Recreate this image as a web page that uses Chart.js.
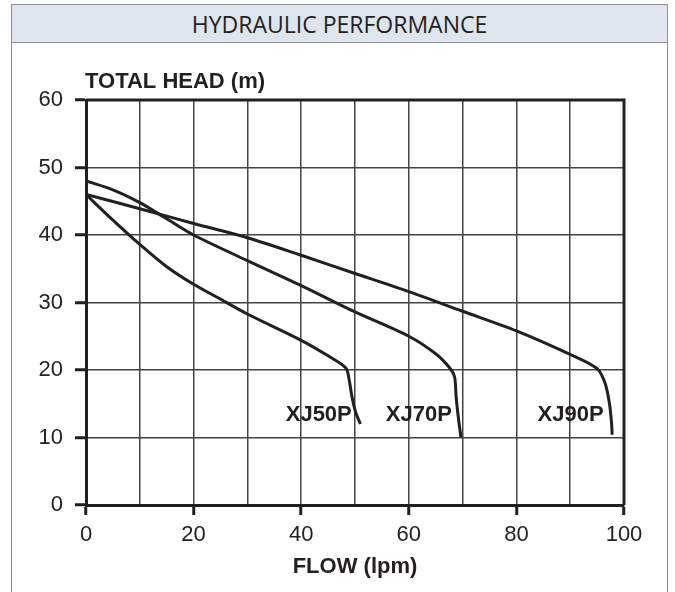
<!DOCTYPE html>
<html>
<head>
<meta charset="utf-8">
<script src="https://cdn.jsdelivr.net/npm/chart.js@4/dist/chart.umd.min.js"></script>
<style>
  html, body { margin: 0; padding: 0; background: #fff; }
  body { width: 675px; height: 592px; position: relative; overflow: hidden; }
  .frame {
    position: absolute; left: 11px; top: 4px; width: 657px; height: 600px;
    border: 1.5px solid #8f8f8f; box-sizing: border-box;
  }
  .frame .head {
    height: 38px; background: #dfe5ef; border-bottom: 1.5px solid #8f8f8f;
    box-sizing: border-box; text-align: center;
    font-family: "Open Sans", sans-serif; font-size: 23px; line-height: 38px; color: #222;
  }
  #perf { position: absolute; left: 0; top: 0; }
</style>
</head>
<body>
<div class="frame"><div class="head">HYDRAULIC PERFORMANCE</div></div>
<canvas id="perf" width="675" height="592"></canvas>
<script>
// flow (lpm) / head (m)
const xj50Flow = [0, 5, 10, 15, 20, 25, 30, 40, 45, 48.3, 48.9, 49.4, 50.1, 51];
const xj50Head = [46, 42.2, 38.6, 35.3, 32.7, 30.5, 28.3, 24.4, 22.1, 20.3, 18.6, 16.2, 13.8, 12];

const xj70Flow = [0, 5, 10, 15, 20, 30, 40, 50, 60, 65, 67.5, 68.5, 68.8, 69.2, 69.7];
const xj70Head = [48, 46.7, 44.8, 42.4, 40, 36.2, 32.5, 28.6, 25, 22.4, 20.4, 19, 16, 13, 10];

const xj90Flow = [0, 10, 20, 30, 40, 50, 60, 70, 80, 90, 95, 96.5, 97.3, 97.7, 97.8];
const xj90Head = [46, 43.9, 41.7, 39.6, 37, 34.3, 31.6, 28.7, 25.8, 22.3, 20.2, 18, 15, 12, 10.4];

const modelNames = ["XJ50P", "XJ70P", "XJ90P"];
// where each model name sits (right edge flow, head)
const nameFlow = [49.4, 68.0, 96.2];
const nameHead = [13.4, 13.4, 13.4];

const ink = '#231f20';

function toPoints(xs, ys) {
    return xs.map((x, i) => ({ x: x, y: ys[i] }));
}

const curveSet = (data) => ({
    data: data,
    borderColor: ink,
    borderWidth: 3,
    pointRadius: 0,
    tension: 0.3,
    fill: false
});

// frame on top/right + axis titles + model names
const extras = {
    id: 'extras',
    afterDatasetsDraw(chart) {
        const { ctx, chartArea, scales } = chart;
        ctx.save();
        ctx.strokeStyle = ink;
        ctx.lineWidth = 3;
        ctx.beginPath();
        ctx.moveTo(chartArea.left, chartArea.top);
        ctx.lineTo(chartArea.right, chartArea.top);
        ctx.lineTo(chartArea.right, chartArea.bottom);
        ctx.stroke();

        ctx.fillStyle = ink;
        ctx.font = 'bold 22px "Liberation Sans", Arial, sans-serif';
        ctx.textBaseline = 'alphabetic';
        ctx.textAlign = 'left';
        ctx.fillText('TOTAL HEAD (m)', chartArea.left - 1, chartArea.top - 12);
        ctx.textAlign = 'center';
        ctx.fillText('FLOW (lpm)', (chartArea.left + chartArea.right) / 2, chartArea.bottom + 68);

        ctx.textAlign = 'right';
        ctx.textBaseline = 'middle';
        modelNames.forEach((name, i) => {
            ctx.fillText(name, scales.x.getPixelForValue(nameFlow[i]), scales.y.getPixelForValue(nameHead[i]));
        });
        ctx.restore();
    }
};

const tickFont = { family: '"Liberation Sans", Arial, sans-serif', size: 22 };

new Chart(document.getElementById('perf'), {
    type: 'line',
    data: {
        datasets: [
            curveSet(toPoints(xj50Flow, xj50Head)),
            curveSet(toPoints(xj70Flow, xj70Head)),
            curveSet(toPoints(xj90Flow, xj90Head))
        ]
    },
    options: {
        responsive: false,
        animation: false,
        layout: { padding: { left: 36, right: 51, top: 100, bottom: 47 } },
        plugins: { legend: { display: false }, tooltip: { enabled: false } },
        scales: {
            x: {
                type: 'linear',
                min: 0, max: 100,
                afterFit: (s) => { s.height = 40; },
                ticks: {
                    stepSize: 10,
                    padding: 7,
                    color: '#222',
                    font: tickFont,
                    maxRotation: 0,
                    autoSkip: false,
                    callback: (v) => (v % 20 === 0 ? v : '')
                },
                grid: {
                    color: '#444',
                    lineWidth: 1.5,
                    tickLength: 10,
                    tickWidth: 3,
                    tickColor: (c) => (c.tick && c.tick.value % 20 === 0 ? ink : 'rgba(0,0,0,0)')
                },
                border: { display: true, color: ink, width: 3 }
            },
            y: {
                min: 0, max: 60,
                afterFit: (s) => { s.width = 50; },
                ticks: { stepSize: 10, padding: 12, color: '#222', font: tickFont },
                grid: { color: '#444', lineWidth: 1.5, tickLength: 11, tickWidth: 3, tickColor: ink },
                border: { display: true, color: ink, width: 3 }
            }
        }
    },
    plugins: [extras]
});
</script>
</body>
</html>
